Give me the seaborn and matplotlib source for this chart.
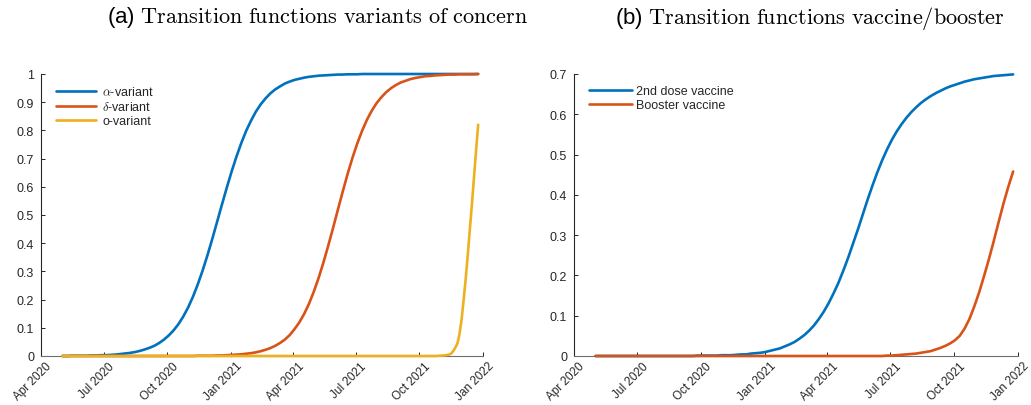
import pandas as pd
import matplotlib
matplotlib.use("Agg")
import matplotlib.pyplot as plt
import matplotlib.transforms as mtransforms
from matplotlib.ticker import FuncFormatter
import seaborn as sns

# weekly grid for the transition functions
weeks = pd.date_range("2020-05-02", "2021-12-25", freq="7D")

alpha_variant = [
    0.000, 0.000, 0.001, 0.001, 0.001,
    0.001, 0.002, 0.002, 0.003, 0.003,
    0.004, 0.005, 0.007, 0.009, 0.011,
    0.014, 0.018, 0.023, 0.029, 0.036,
    0.046, 0.058, 0.073, 0.091, 0.113,
    0.140, 0.172, 0.210, 0.254, 0.303,
    0.357, 0.415, 0.476, 0.537, 0.597,
    0.654, 0.707, 0.755, 0.798, 0.834,
    0.866, 0.892, 0.913, 0.931, 0.945,
    0.956, 0.966, 0.973, 0.979, 0.983,
    0.987, 0.990, 0.992, 0.994, 0.995,
    0.996, 0.997, 0.998, 0.998, 0.999,
    0.999, 0.999, 1.000, 1.000, 1.000,
] + [1.000] * 22

delta_variant = [0.000] * 28 + [
    0.001, 0.001, 0.001,
    0.001, 0.002, 0.002, 0.003,
    0.004, 0.005, 0.006, 0.008, 0.010,
    0.013, 0.017, 0.022, 0.028, 0.036,
    0.046, 0.058, 0.074, 0.095, 0.119,
    0.149, 0.185, 0.228, 0.277, 0.332,
    0.392, 0.455, 0.520, 0.584, 0.646,
    0.703, 0.754, 0.799, 0.838, 0.870,
    0.897, 0.918, 0.936, 0.950, 0.961,
    0.970, 0.976, 0.982, 0.986, 0.989,
    0.992, 0.993, 0.995, 0.996, 0.997,
    0.998, 0.998, 0.999, 0.999, 0.999,
    0.999, 1.000,
]

# omicron rises late, so it gets its own denser dates
omicron_dates = pd.to_datetime([
    "2020-05-02", "2021-10-23", "2021-10-30", "2021-11-06", "2021-11-13",
    "2021-11-16", "2021-11-19", "2021-11-22", "2021-11-25", "2021-11-28",
    "2021-12-01", "2021-12-04", "2021-12-07", "2021-12-10", "2021-12-13",
    "2021-12-16", "2021-12-19", "2021-12-22", "2021-12-25",
])
omicron_variant = [
    0.000, 0.000, 0.001, 0.002, 0.005,
    0.009, 0.018, 0.030, 0.045, 0.078,
    0.130, 0.200, 0.275, 0.360, 0.450,
    0.540, 0.635, 0.730, 0.820,
]

second_dose = [0.000] * 20 + [
    0.000, 0.001, 0.001, 0.001, 0.001,
    0.001, 0.002, 0.002, 0.002, 0.003,
    0.004, 0.004, 0.006, 0.007, 0.008,
    0.010, 0.013, 0.016, 0.019, 0.024,
    0.029, 0.035, 0.043, 0.052, 0.063,
    0.076, 0.092, 0.110, 0.131, 0.155,
    0.181, 0.211, 0.243, 0.278, 0.313,
    0.350, 0.387, 0.422, 0.455, 0.485,
    0.512, 0.536, 0.557, 0.575, 0.591,
    0.605, 0.617, 0.628, 0.637, 0.645,
    0.652, 0.658, 0.664, 0.669, 0.673,
    0.677, 0.681, 0.684, 0.687, 0.689,
    0.691, 0.693, 0.695, 0.696, 0.697,
    0.698, 0.699,
]

booster = [0.000] * 60 + [
    0.001, 0.001, 0.002, 0.003, 0.004,
    0.005, 0.006, 0.008, 0.010, 0.012,
    0.016, 0.020, 0.025, 0.031, 0.039,
    0.050, 0.068, 0.092, 0.123, 0.158,
    0.198, 0.240, 0.285, 0.332, 0.378,
    0.420, 0.458,
]

quarters = pd.date_range("2020-04-01", "2022-01-01", freq="3MS")
quarter_labels = [d.strftime("%b %Y") for d in quarters]

blue = "#0072BD"
red = "#D95319"
yellow = "#EDB120"
axis_col = "#262626"

sns.set_style("ticks")
plt.rcParams["font.family"] = ["Liberation Sans", "DejaVu Sans"]
plt.rcParams["mathtext.fontset"] = "cm"

W, H = 1031, 406
fig = plt.figure(figsize=(W / 100, H / 100), dpi=100)
ax1 = fig.add_axes([41 / W, 1 - 357 / H, 442 / W, 282 / H])
ax2 = fig.add_axes([574 / W, 1 - 357 / H, 444 / W, 282 / H])

lw = 1.9
sns.lineplot(x=weeks, y=alpha_variant, ax=ax1, color=blue, lw=lw, clip_on=False, zorder=3)
sns.lineplot(x=weeks, y=delta_variant, ax=ax1, color=red, lw=lw, clip_on=False, zorder=3)
sns.lineplot(x=omicron_dates, y=omicron_variant, ax=ax1, color=yellow, lw=lw, clip_on=False, zorder=3)

sns.lineplot(x=weeks, y=second_dose, ax=ax2, color=blue, lw=lw, clip_on=False, zorder=3)
sns.lineplot(x=weeks, y=booster, ax=ax2, color=red, lw=lw, clip_on=False, zorder=3)


def matlab_axes(ax, ymax):
    ax.set_xlim(pd.Timestamp("2020-04-01"), pd.Timestamp("2022-01-01"))
    ax.set_ylim(0, ymax)
    ax.set_yticks([round(0.1 * i, 1) for i in range(int(round(ymax * 10)) + 1)])
    ax.yaxis.set_major_formatter(FuncFormatter(lambda v, _: f"{v:g}"))
    ax.set_xticks(quarters)
    ax.set_xticklabels(quarter_labels, rotation=45, ha="right", va="center",
                       rotation_mode="anchor")
    ax.set_xlabel("")
    ax.set_ylabel("")
    sns.despine(ax=ax)
    ax.spines["left"].set_color(axis_col)
    ax.spines["bottom"].set_color("#6e6e6e")
    for s in ("left", "bottom"):
        ax.spines[s].set_linewidth(0.8)
    ax.tick_params(axis="both", direction="in", length=3, width=0.7,
                   color=axis_col, labelsize=9, labelcolor=axis_col)
    ax.tick_params(axis="y", pad=5)
    ax.tick_params(axis="x", pad=0, labelsize=8.5)
    shift = mtransforms.ScaledTranslation(0.09, -0.08, fig.dpi_scale_trans)
    for lab in ax.get_xticklabels():
        lab.set_transform(lab.get_transform() + shift)


matlab_axes(ax1, 1.0)
matlab_axes(ax2, 0.7)

ax1.legend(handles=ax1.get_lines()[:3],
           labels=["$\\alpha$-variant", "$\\delta$-variant", "o-variant"],
           loc="upper left", bbox_to_anchor=(0.034, 0.96), frameon=False,
           borderaxespad=0, borderpad=0, handlelength=3.2, handletextpad=0.5,
           labelspacing=0.15, fontsize=9)
ax2.legend(handles=ax2.get_lines()[:2],
           labels=["2nd dose vaccine", "Booster vaccine"],
           loc="upper left", bbox_to_anchor=(0.034, 0.96), frameon=False,
           borderaxespad=0, borderpad=0, handlelength=3.4, handletextpad=0.35,
           labelspacing=0.15, fontsize=9)

fig.text(317 / W, 1 - 18 / H,
         "(a) $\\mathrm{Transition\\ functions\\ variants\\ of\\ concern}$",
         ha="center", va="center", fontsize=16, color="black")
fig.text(810 / W, 1 - 18 / H,
         "(b) $\\mathrm{Transition\\ functions\\ vaccine/booster}$",
         ha="center", va="center", fontsize=16, color="black")

fig.savefig("out.png", dpi=100)
